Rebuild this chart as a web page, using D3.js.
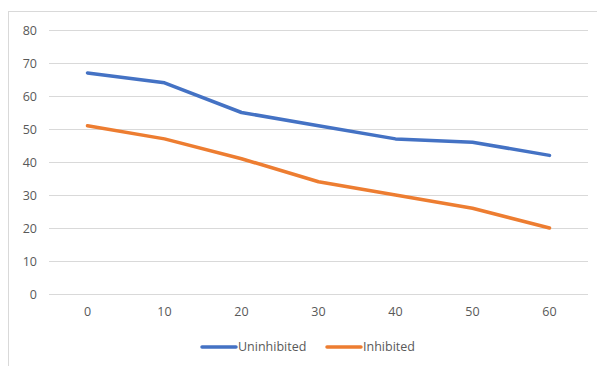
<!DOCTYPE html>
<html>
<head>
<meta charset="utf-8">
<script src="https://cdn.jsdelivr.net/npm/d3@7"></script>
<style>
  body { margin: 0; background: #fff; }
  text { font-family: "Open Sans", "Noto Sans", sans-serif; fill: #595959; }
</style>
</head>
<body>
<svg id="chart" width="597" height="366"></svg>
<script>
// values
const minutes = ['0', '10', '20', '30', '40', '50', '60'];
const uninhibited = [67, 64, 55, 51, 47, 46, 42];
const inhibited = [51, 47, 41, 34, 30, 26, 20];
const yTicks = [0, 10, 20, 30, 40, 50, 60, 70, 80];
const seriesNames = ['Uninhibited', 'Inhibited'];
const colors = ['#4472c4', '#ed7d31'];

const margin = {top: 30, right: 9, bottom: 72, left: 49};
const width = 597 - margin.left - margin.right;
const height = 366 - margin.top - margin.bottom;

const svg = d3.select('#chart');

// chart frame (only top and left edges show in the crop)
svg.append('rect')
  .attr('x', 8.5).attr('y', 11.5)
  .attr('width', 620).attr('height', 400)
  .attr('fill', 'none')
  .attr('stroke', '#d9d9d9');

const chart = svg.append('g')
  .attr('transform', `translate(${margin.left}, ${margin.top})`);

const x = d3.scaleBand()
  .domain(minutes)
  .range([0, width]);

const y = d3.scaleLinear()
  .domain([0, 80])
  .range([height, 0]);

// gridlines
chart.append('g')
  .selectAll('line')
  .data(yTicks)
  .join('line')
    .attr('x1', 0).attr('x2', width)
    .attr('y1', d => Math.round(y(d)) + 0.5)
    .attr('y2', d => Math.round(y(d)) + 0.5)
    .attr('stroke', '#d9d9d9')
    .attr('stroke-width', 1);

const yAxis = chart.append('g')
  .call(d3.axisLeft(y).tickValues(yTicks).tickSize(0).tickPadding(12));
yAxis.select('.domain').remove();
yAxis.selectAll('text').attr('font-size', 12.5).style('font-family', null);

const xAxis = chart.append('g')
  .attr('transform', `translate(0, ${height})`)
  .call(d3.axisBottom(x).tickSize(0).tickPadding(13));
xAxis.select('.domain').remove();
xAxis.selectAll('text').attr('font-size', 12.5).style('font-family', null);

const line = d3.line()
  .x((d, i) => x(minutes[i]) + x.bandwidth() / 2)
  .y(d => y(d));

[uninhibited, inhibited].forEach((vals, k) => {
  chart.append('path')
    .datum(vals)
    .attr('fill', 'none')
    .attr('stroke', colors[k])
    .attr('stroke-width', 3.5)
    .attr('stroke-linejoin', 'round')
    .attr('stroke-linecap', 'round')
    .attr('d', line);
});

// legend
const legend = svg.append('g').attr('transform', 'translate(202, 347)');
const legendX = [0, 125];
seriesNames.forEach((name, k) => {
  const g = legend.append('g').attr('transform', `translate(${legendX[k]}, 0)`);
  g.append('line')
    .attr('x1', 0).attr('x2', 34)
    .attr('stroke', colors[k])
    .attr('stroke-width', 3.5)
    .attr('stroke-linecap', 'round');
  g.append('text')
    .attr('x', 36)
    .attr('dy', '0.35em')
    .attr('font-size', 12.5)
    .text(name);
});
</script>
</body>
</html>
